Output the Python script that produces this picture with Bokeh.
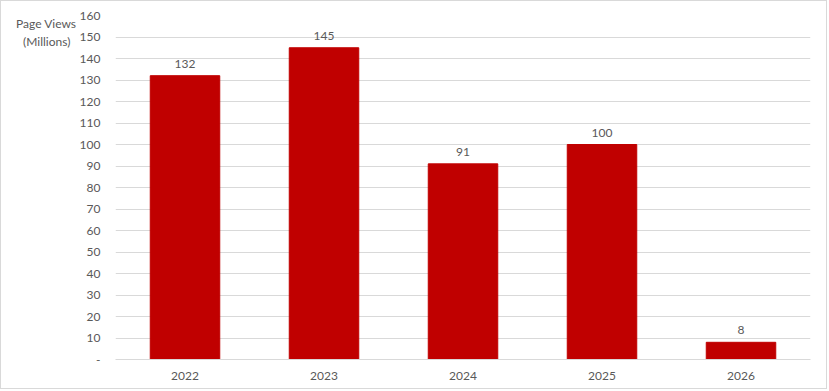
from bokeh.plotting import figure
from bokeh.models import ColumnDataSource, FixedTicker, LabelSet, LinearAxis
from bokeh.core.properties import value
from bokeh.embed import file_html
from bokeh.resources import INLINE

years = ["2022", "2023", "2024", "2025", "2026"]
views = [132, 145, 91, 100, 8]
y_ticks = list(range(0, 170, 10))
y_title = "Page Views\n(Millions)\u00a0\u00a0"

src = ColumnDataSource(dict(years=years, views=views, labels=[str(v) for v in views]))

p = figure(x_range=years, y_range=(0, 160), width=827, height=389,
           output_backend="svg", toolbar_location=None,
           min_border_left=114, min_border_right=18, min_border_top=14, min_border_bottom=31)
p.styles = {"border": "1px solid #d9d9d9"}
p.outline_line_color = None
p.background_fill_color = "white"
p.border_fill_color = "white"

p.vbar(x="years", top="views", width=0.5, source=src, color="#C00000")

font = "Lato"
txt_color = "#595959"

p.yaxis.ticker = FixedTicker(ticks=y_ticks)
p.yaxis.major_label_overrides = {0: "-"}
p.yaxis.axis_line_color = None
p.yaxis.major_tick_line_color = None
p.yaxis.minor_tick_line_color = None
p.yaxis.major_tick_out = 0
p.yaxis.major_label_standoff = 15
p.xaxis.axis_line_color = "#d9d9d9"
p.xaxis.major_tick_line_color = None
p.xaxis.major_label_standoff = 6
for ax in (p.xaxis, p.yaxis):
    ax.major_label_text_font = font
    ax.major_label_text_font_size = "12px"
    ax.major_label_text_color = txt_color

# axis title placed as a second left axis with a single labelled tick
title_axis = LinearAxis(ticker=FixedTicker(ticks=[152]),
                        major_label_overrides={152: y_title},
                        axis_line_color=None, major_tick_line_color=None,
                        minor_tick_line_color=None, major_tick_out=0,
                        major_label_standoff=0,
                        major_label_text_font=font, major_label_text_font_size="12px",
                        major_label_text_color=txt_color)
p.add_layout(title_axis, "left")

p.xgrid.grid_line_color = None
p.ygrid.grid_line_color = "#d9d9d9"
p.ygrid.ticker = FixedTicker(ticks=y_ticks)

labels = LabelSet(x="years", y="views", text="labels", source=src,
                  text_align="center", text_baseline="bottom", y_offset=8,
                  text_font=value(font), text_font_size=value("12px"),
                  text_color=value(txt_color))
p.add_layout(labels)

open("out.html", "w").write(file_html(p, INLINE))
